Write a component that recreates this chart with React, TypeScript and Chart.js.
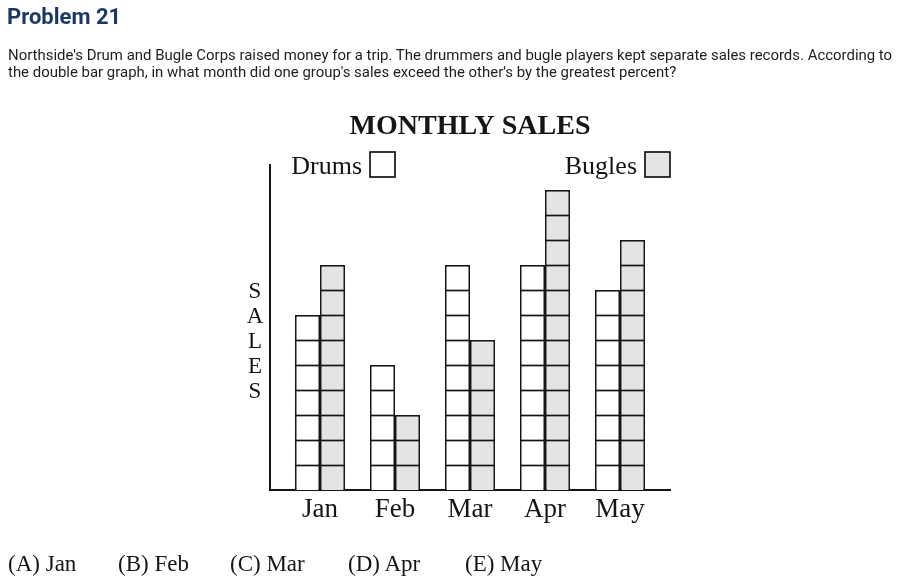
import React, { useEffect, useRef } from "react";
import { Chart, registerables } from "chart.js";

Chart.register(...registerables);

const MONTHS = ["Jan", "Feb", "Mar", "Apr", "May"];
const DRUMS = [7, 5, 9, 9, 8];
const BUGLES = [9, 3, 6, 12, 10];
const CHOICES = ["(A) Jan", "(B) Feb", "(C) Mar", "(D) Apr", "(E) May"];
const Y_LETTERS = ["S", "A", "L", "E", "S"];

const SERIF = "'Liberation Serif', 'Times New Roman', serif";
const INK = "#151515";
const GREY = "#e4e4e4";

const cellPlugin = {
  id: "cells",
  afterDatasetsDraw(chart: any) {
    const ctx = chart.ctx;
    const y = chart.scales.y;
    ctx.save();
    ctx.strokeStyle = INK;
    ctx.lineWidth = 1.7;
    chart.data.datasets.forEach((ds: any, di: number) => {
      const meta = chart.getDatasetMeta(di);
      meta.data.forEach((el: any, i: number) => {
        const v = ds.data[i].y;
        const w = el.width;
        for (let k = 1; k < v; k++) {
          const py = Math.round(y.getPixelForValue(k)) + 0.5;
          ctx.beginPath();
          ctx.moveTo(el.x - w / 2, py);
          ctx.lineTo(el.x + w / 2, py);
          ctx.stroke();
        }
      });
    });
    ctx.restore();
  },
  afterDraw(chart: any) {
    const ctx = chart.ctx;
    const area = chart.chartArea;
    const x = chart.scales.x;
    ctx.save();
    ctx.fillStyle = INK;
    ctx.font = `26px ${SERIF}`;
    ctx.textBaseline = "middle";
    ctx.textAlign = "right";
    // legend
    const box = 25;
    const drumsRight = x.getPixelForValue(1);
    const bugRight = area.right;
    const top = area.top - 13;
    const entries = [
      { label: "Drums", right: drumsRight, fill: "#ffffff" },
      { label: "Bugles", right: bugRight, fill: GREY },
    ];
    entries.forEach((e) => {
      ctx.fillStyle = e.fill;
      ctx.fillRect(e.right - box, top, box, box);
      ctx.strokeStyle = INK;
      ctx.lineWidth = 1.7;
      ctx.strokeRect(e.right - box, top, box, box);
      ctx.fillStyle = INK;
      ctx.fillText(e.label, e.right - box - 8, top + box / 2 + 3);
    });
    // vertical axis title
    ctx.textAlign = "center";
    ctx.font = `23px ${SERIF}`;
    const cx = area.left - 15;
    const start = area.top + 127;
    Y_LETTERS.forEach((ch, i) => {
      ctx.fillText(ch, cx, start + i * 25);
    });
    ctx.restore();
  },
};

function ChartBox() {
  const ref = useRef<HTMLCanvasElement>(null);
  useEffect(() => {
    if (!ref.current) return;
    const chart = new Chart(ref.current, {
      type: "bar",
      data: {
        datasets: [
          {
            label: "Drums",
            data: DRUMS.map((v, i) => ({ x: i, y: v })),
            backgroundColor: "#ffffff",
            borderColor: INK,
            borderWidth: 1.7,
            categoryPercentage: 2 / 3,
            barPercentage: 1,
          },
          {
            label: "Bugles",
            data: BUGLES.map((v, i) => ({ x: i, y: v })),
            backgroundColor: GREY,
            borderColor: INK,
            borderWidth: 1.7,
            categoryPercentage: 2 / 3,
            barPercentage: 1,
          },
        ],
      },
      options: {
        responsive: false,
        animation: false,
        layout: { padding: { left: 270, right: 230, top: 110.2, bottom: 46 } },
        plugins: {
          legend: { display: false },
          tooltip: { enabled: false },
          title: {
            display: true,
            text: "MONTHLY SALES",
            color: INK,
            font: { family: SERIF, size: 28, weight: "bold", lineHeight: 1.2 },
            padding: { top: 0, bottom: 21.2 },
          },
        },
        scales: {
          x: {
            type: "linear",
            offset: false,
            min: -2 / 3,
            max: 14 / 3,
            grid: { display: false, drawTicks: false },
            border: { display: true, color: INK, width: 2 },
            ticks: {
              stepSize: 1,
              includeBounds: false,
              autoSkip: false,
              maxRotation: 0,
              padding: 4,
              color: INK,
              font: { family: SERIF, size: 27 },
              callback: (v: any) =>
                Number.isInteger(v) && MONTHS[v] !== undefined ? MONTHS[v] : "",
            },
            afterFit: (s: any) => {
              s.height = 40;
            },
          },
          y: {
            min: 0,
            max: 13,
            grid: { display: false, drawTicks: false },
            border: { display: true, color: INK, width: 2 },
            ticks: { display: false },
            afterFit: (s: any) => {
              s.width = 0;
            },
          },
        },
      },
      plugins: [cellPlugin],
    });
    return () => chart.destroy();
  }, []);
  return (
    <canvas
      ref={ref}
      width={900}
      height={576}
      style={{ position: "absolute", left: 0, top: 0, width: 900, height: 576 }}
    />
  );
}

const CHOICE_X = [8, 118, 230, 348, 465];

export default function App() {
  return (
    <div
      style={{
        position: "absolute",
        left: 0,
        top: 0,
        width: 900,
        height: 576,
        background: "#ffffff",
        overflow: "hidden",
      }}
    >
      <ChartBox />
      <div
        style={{
          position: "absolute",
          left: 7,
          top: 4,
          fontFamily: "Roboto, sans-serif",
          fontWeight: 700,
          fontSize: 22,
          lineHeight: "26px",
          color: "#1b365f",
        }}
      >
        Problem 21
      </div>
      <div
        style={{
          position: "absolute",
          left: 8,
          top: 47,
          width: 892,
          fontFamily: "Roboto, sans-serif",
          fontSize: 14.95,
          lineHeight: "17px",
          color: "#1e1e1e",
          whiteSpace: "nowrap",
        }}
      >
        Northside's Drum and Bugle Corps raised money for a trip. The drummers and bugle players kept separate sales records. According to
        <br />
        the double bar graph, in what month did one group's sales exceed the other's by the greatest percent?
      </div>
      {CHOICES.map((c, i) => (
        <div
          key={c}
          style={{
            position: "absolute",
            left: CHOICE_X[i],
            top: 550,
            fontFamily: SERIF,
            fontSize: 23,
            lineHeight: "28px",
            color: INK,
            whiteSpace: "nowrap",
          }}
        >
          {c}
        </div>
      ))}
    </div>
  );
}
